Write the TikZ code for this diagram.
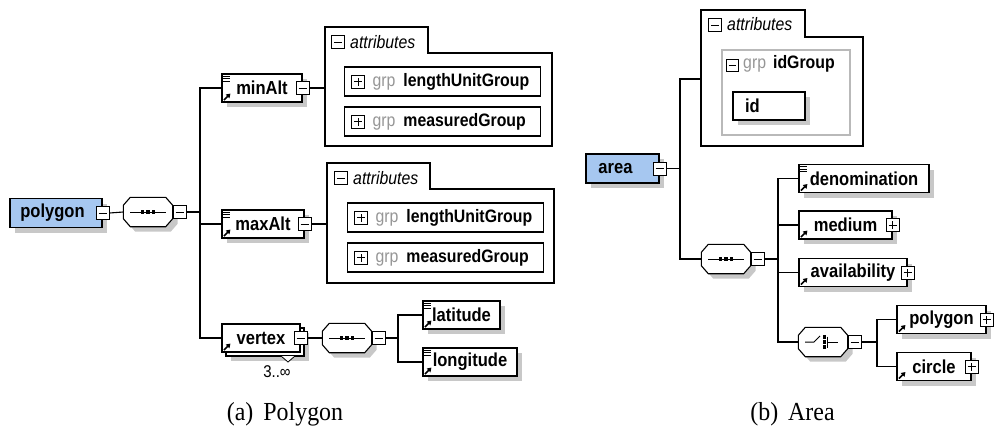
\documentclass[tikz,border=0pt]{standalone}
\usepackage{fontspec}
\setmainfont{Liberation Serif}[FakeStretch=0.92]
\setsansfont{Liberation Sans}[FakeStretch=0.88]
\usetikzlibrary{arrows.meta,shadows}
\definecolor{rootblue}{RGB}{166,199,240}
\definecolor{grpgray}{RGB}{150,150,150}
\definecolor{shdgray}{RGB}{200,200,200}
\tikzset{
  shd/.style     ={drop shadow={shadow xshift=5pt,shadow yshift=-5pt,fill=shdgray,opacity=1}},
  elembase/.style={draw,line width=1.1pt,fill=white,minimum height=28pt,inner sep=0pt,
                   font=\sffamily\bfseries\fontsize{18.8}{19}\selectfont},
  elem/.style    ={elembase,shd},
  root/.style    ={elem,fill=rootblue,minimum height=29pt},
  seq/.style     ={minimum width=49pt,minimum height=29pt,inner sep=0pt},
  grp/.style     ={draw,line width=1.1pt,fill=white,minimum height=29pt,inner xsep=0pt,
                   anchor=west,align=left,text width=196pt,
                   font=\sffamily\bfseries\fontsize{18}{19}\selectfont},
  pmsq/.style    ={draw,fill=white,line width=.9pt,minimum size=13pt,inner sep=0pt},
  minbox/.style  ={pmsq,path picture={\draw[line width=.9pt]
                   ([xshift=2.5pt]path picture bounding box.west) -- ([xshift=-2.5pt]path picture bounding box.east);}},
  plusbox/.style ={pmsq,path picture={\draw[line width=.9pt]
                   ([xshift=2.5pt]path picture bounding box.west) -- ([xshift=-2.5pt]path picture bounding box.east)
                   ([yshift=2.5pt]path picture bounding box.south) -- ([yshift=-2.5pt]path picture bounding box.north);}},
  attr/.style    ={draw,line width=1.1pt},
  bus/.style     ={draw,line width=1.1pt},
  note/.style    ={font=\sffamily\fontsize{17}{18}\selectfont,inner sep=0pt},
  tabtxt/.style  ={font=\sffamily\itshape\fontsize{18}{18}\selectfont,inner sep=0pt,anchor=west},
  captxt/.style  ={font=\fontsize{26}{28}\selectfont,anchor=base},
}
\newcommand{\refmark}[1]{\draw[line width=1.6pt,-{Triangle[length=4pt,width=5pt]}]
  ([shift={(2.5pt,2.5pt)}]#1.south west) -- ++(6.5pt,6.5pt);}
\newcommand{\docmark}[1]{\foreach \k in {2.5,5,7.5}
  \draw[line width=.8pt] ([shift={(2pt,-\k*1pt)}]#1.north west) -- ++(7pt,0pt);}
\newcommand{\octa}[1]{\draw[line width=1.1pt,fill=white,shd]
  ([xshift=7pt]#1.north west) -- ([xshift=-7pt]#1.north east) -- ([yshift=-8pt]#1.north east)
  -- ([yshift=8pt]#1.south east) -- ([xshift=-7pt]#1.south east) -- ([xshift=7pt]#1.south west)
  -- ([yshift=8pt]#1.south west) -- ([yshift=-8pt]#1.north west) -- cycle;}
\newcommand{\seqmark}[1]{\draw[line width=1pt] ([xshift=7pt]#1.west) -- ([xshift=-7pt]#1.east);
  \foreach \d in {-5.5,0,5.5}
  \fill ([xshift=\d*1pt]#1.center) +(-1.8pt,-1.8pt) rectangle +(1.8pt,1.8pt);}
\newcommand{\choicemark}[1]{\draw[line width=1pt] ([xshift=-18pt]#1.center) -- ++(9pt,0pt) -- ++(6pt,6pt);
  \foreach \d in {-5,0,5}
  \fill ([shift={(1.5pt,\d*1pt)}]#1.center) +(-1.6pt,-1.6pt) rectangle +(1.6pt,1.6pt);
  \draw[line width=1pt] ([shift={(4.5pt,5.5pt)}]#1.center) -- ++(0pt,-11pt)
    ([xshift=4.5pt]#1.center) -- ++(10.5pt,0pt);}

\begin{document}
\begin{tikzpicture}[x=1pt,y=-1pt]
\useasboundingbox (0,0) rectangle (998,437);
% (a) polygon
\node[root,minimum width=92pt] (polyR) at (56,213) {polygon\hspace*{7pt}};
\node[minbox] (polyRm) at (polyR.east) {};
\node[seq] (seqA) at (148,212) {};
\octa{seqA}
\node[minbox,anchor=west] (seqAm) at (seqA.east) {};
\coordinate (busA) at (200,212);
\node[elem,minimum width=80pt] (minAlt) at (262,88) {minAlt};
\node[minbox] (minAltm) at (minAlt.east) {};
\node[elem,minimum width=82pt] (maxAlt) at (263,224) {maxAlt};
\node[minbox] (maxAltm) at (maxAlt.east) {};
\node[elem,minimum width=78pt] (vertexbk) at (265,342) {};
\node[elembase,minimum width=78pt] (vertex) at (261,338) {vertex};
\node[minbox] (vertexm) at (vertex.east) {};
\draw[line width=.8pt,fill=white] (281,356) -- (288,362) -- (295,356);
\node[note] (vertexocc) at (277,372) {3..∞};
\node[seq] (seqB) at (347,338) {};
\octa{seqB}
\node[minbox,anchor=west] (seqBm) at (seqB.east) {};
\coordinate (busB) at (398,338);
\node[elem,minimum width=77pt] (lat) at (461.5,315) {latitude};
\node[elem,minimum width=94pt] (lon) at (470,362) {longitude};
\draw[attr] (325,27) -- (428,27) -- (428,53) -- (552,53) -- (552,146) -- (325,146) -- cycle;
\coordinate (attA) at (325,88);
\node[minbox] (attAm) at (338,42) {};
\node[tabtxt] (attAt) at (350,42) {attributes};
\node[grp] (lugA) at (344,81.5) {\hspace*{28pt}{\color{grpgray}\mdseries grp}\hspace{8pt}lengthUnitGroup};
\node[plusbox] (lugAp) at ([xshift=14pt]lugA.west) {};
\node[grp] (mgA) at (344,121.5) {\hspace*{28pt}{\color{grpgray}\mdseries grp}\hspace{8pt}measuredGroup};
\node[plusbox] (mgAp) at ([xshift=14pt]mgA.west) {};
\draw[attr] (327,163) -- (430,163) -- (430,189) -- (554,189) -- (554,283) -- (327,283) -- cycle;
\coordinate (attB) at (327,224);
\node[minbox] (attBm) at (341,178) {};
\node[tabtxt] (attBt) at (353,178) {attributes};
\node[grp] (lugB) at (347,217.5) {\hspace*{28pt}{\color{grpgray}\mdseries grp}\hspace{8pt}lengthUnitGroup};
\node[plusbox] (lugBp) at ([xshift=14pt]lugB.west) {};
\node[grp] (mgB) at (347,257.5) {\hspace*{28pt}{\color{grpgray}\mdseries grp}\hspace{8pt}measuredGroup};
\node[plusbox] (mgBp) at ([xshift=14pt]mgB.west) {};
\seqmark{seqA} \seqmark{seqB}
\refmark{minAlt} \refmark{maxAlt} \refmark{vertex} \refmark{lat} \refmark{lon}
\docmark{minAlt} \docmark{maxAlt} \docmark{lat} \docmark{lon}
\draw[bus] (polyRm.east) -- (seqA.west); \draw[bus] (seqAm.east) -- (busA);
\draw[bus] (busA) |- (minAlt); \draw[bus] (busA) |- (maxAlt); \draw[bus] (busA) |- (vertex);
\draw[bus] (minAltm.east) -- (attA); \draw[bus] (maxAltm.east) -- (attB);
\draw[bus] (vertexm.east) -- (seqB.west); \draw[bus] (seqBm.east) -- (busB);
\draw[bus] (busB) |- (lat); \draw[bus] (busB) |- (lon);
% (b) area
\node[root,minimum width=73pt] (areaR) at (622.5,168.5) {area\hspace*{14pt}};
\node[minbox] (areaRm) at (areaR.east) {};
\coordinate (busC) at (680,168.5);
\draw[attr] (701,10) -- (805,10) -- (805,37) -- (863,37) -- (863,146) -- (701,146) -- cycle;
\coordinate (attC) at (701,79);
\node[minbox] (attCm) at (715,25) {};
\node[tabtxt] (attCt) at (727,24) {attributes};
\node[draw=gray!55,line width=1.5pt,minimum width=128pt,minimum height=85pt] (idGrp) at (786,92.5) {};
\node[minbox,minimum size=12pt] (idGrpm) at (732,65) {};
\node[tabtxt,font=\sffamily\bfseries\fontsize{18}{19}\selectfont] (idGrpt) at (743,64) {{\color{grpgray}\mdseries grp}\hspace{7pt}idGroup};
\node[elem,text width=48pt,inner xsep=12pt,align=left] (idA) at (769,106) {id};
\node[seq] (seqC) at (726,259) {};
\octa{seqC}
\node[minbox,anchor=west] (seqCm) at (seqC.east) {};
\coordinate (busD) at (778,259);
\node[elem,minimum width=130pt] (denom) at (864,178.5) {denomination};
\node[elem,minimum width=93pt] (medium) at (845.5,225) {medium};
\node[plusbox] (mediump) at (medium.east) {};
\node[elem,minimum width=108pt] (avail) at (853,272.5) {availability};
\node[plusbox] (availp) at (avail.east) {};
\node[seq] (choiceA) at (823,342) {};
\octa{choiceA}
\node[minbox,anchor=west] (choiceAm) at (choiceA.east) {};
\coordinate (busE) at (877,342);
\node[elem,minimum width=89pt] (polyB) at (941.5,319.5) {polygon};
\node[plusbox] (polyBp) at (polyB.east) {};
\node[elem,minimum width=74pt] (circ) at (934,366.5) {circle};
\node[plusbox] (circp) at (circ.east) {};
\seqmark{seqC} \choicemark{choiceA}
\refmark{denom} \refmark{medium} \refmark{avail} \refmark{polyB} \refmark{circ}
\docmark{denom}
\draw[bus] (areaRm.east) -- (busC); \draw[bus] (busC) |- (attC); \draw[bus] (busC) |- (seqC);
\draw[bus] (seqCm.east) -- (busD);
\draw[bus] (busD) |- (denom); \draw[bus] (busD) |- (medium); \draw[bus] (busD) |- (avail);
\draw[bus] (busD) |- (choiceA);
\draw[bus] (choiceAm.east) -- (busE); \draw[bus] (busE) |- (polyB); \draw[bus] (busE) |- (circ);
\node[captxt] (capA) at (285,420) {(a)\hspace{10pt}Polygon};
\node[captxt] (capB) at (792.5,420) {(b)\hspace{10pt}Area};
\end{tikzpicture}
\end{document}
